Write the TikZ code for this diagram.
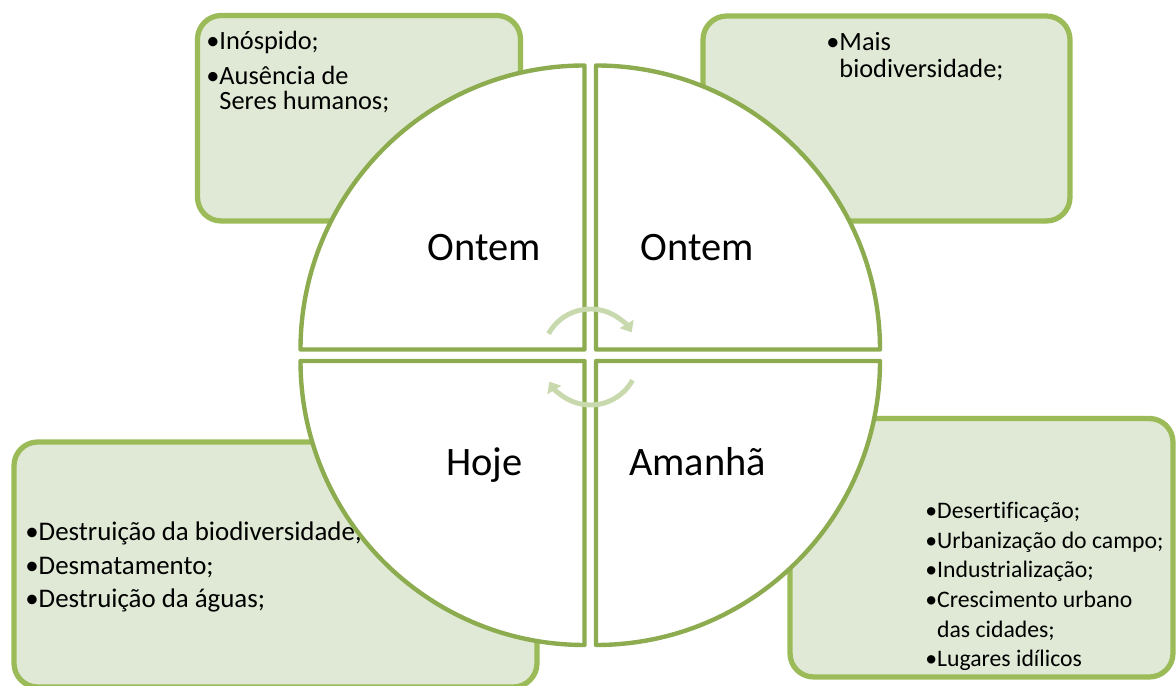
\documentclass[tikz,border=0pt]{standalone}
\usepackage{fontspec}
\setmainfont{Carlito}[Ligatures={NoCommon}]
\usetikzlibrary{arrows.meta}

\definecolor{boxline}{HTML}{9BBB59}
\definecolor{boxfill}{HTML}{E0E9D5}
\definecolor{quadline}{HTML}{8DAC50}
\definecolor{cyclecol}{HTML}{C8D9AE}

\def\rad{284}
\def\arcrad{48}

\tikzset{
    box/.style={draw=boxline,fill=boxfill,line width=3pt,rounded corners=13.5pt},
    quad/.style={draw=quadline,fill=white,line width=2.5pt,line join=round},
    cycle arrow/.style={draw=cyclecol,line width=2.8pt,-{Triangle[width=9pt,length=5.5pt]}},
    item/.style={anchor=base west,align=left,inner sep=0pt},
    label/.style={anchor=base,inner sep=0pt,font=\fontsize{23}{27}\selectfont}
}

\begin{document}
\begin{tikzpicture}[x=0.02cm,y=0.02cm]
    \useasboundingbox (0,0) rectangle (1176,686);

    % boxes behind the circle
    \draw[box] (197.5,465) rectangle (520.5,670.5);
    \draw[box] (703,465) rectangle (1070,670);
    \draw[box] (14,-1) rectangle (537,244);
    \draw[box] (790,9) rectangle (1173,267.5);

    % anchored at the baseline of the last line
    \node[item,font=\fontsize{15}{14.7}\selectfont] (inospido) at (206,576)
        {•Inóspido;\\[5.1pt]•Ausência de\\\phantom{•}Seres humanos;};
    \node[item,font=\fontsize{15}{15.9}\selectfont] (mais) at (826,608)
        {•Mais\\\phantom{•}biodiversidade;};
    \node[item,font=\fontsize{15.3}{19.3}\selectfont] (destruicao) at (25,78)
        {•Destruição da biodiversidade;\\•Desmatamento;\\•Destruição da águas;};
    \node[item,font=\fontsize{13.5}{16.9}\selectfont] (desert) at (925,19)
        {•Desertificação;\\•Urbanização do campo;\\•Industrialização;\\•Crescimento urbano\\\phantom{•}das cidades;\\•Lugares idílicos};

    % the four quarters
    \foreach \cx/\cy/\a in {584.5/336.5/90,596/336.5/0,584.5/325/180,596/325/270}
        \draw[quad] (\cx,\cy) -- ++(\a:\rad) arc[start angle=\a,delta angle=90,radius=\rad] -- cycle;

    \node[label] (ontem1) at (484.5,425) {Ontem};
    \node[label] (ontem2) at (697.5,425) {Ontem};
    \node[label] (hoje) at (484.5,210) {Hoje};
    \node[label] (amanha) at (697.5,210) {Amanhã};

    % cycle arrows
    \coordinate (mid) at (590.5,329);
    \draw[cycle arrow] (mid) ++(151:\arcrad) arc[start angle=151,end angle=31,radius=\arcrad];
    \draw[cycle arrow] (mid) ++(-29:\arcrad) arc[start angle=-29,end angle=-149,radius=\arcrad];
\end{tikzpicture}
\end{document}
